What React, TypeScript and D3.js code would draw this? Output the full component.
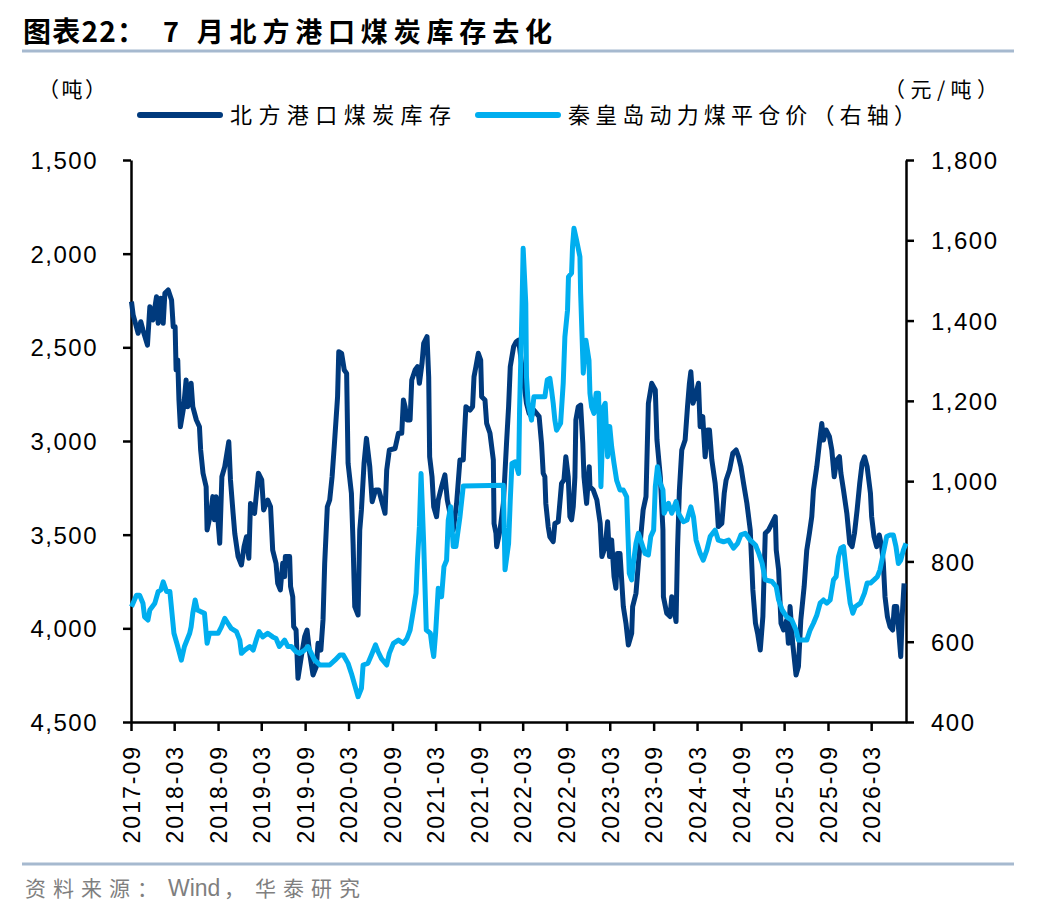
import { useEffect, useRef } from 'react';
import * as d3 from 'd3';

// 北方港口煤炭库存 (left axis, inverted), weekly-ish readings
const inventory: [string, number][] = [
  ["2017-09-03", 2256], ["2017-09-10", 2327], ["2017-10-01", 2425], ["2017-10-12", 2363], ["2017-10-21", 2407],
  ["2017-11-09", 2488], ["2017-11-19", 2283], ["2017-12-02", 2354], ["2017-12-17", 2230], ["2017-12-24", 2372],
  ["2018-01-04", 2238], ["2018-01-14", 2372], ["2018-01-21", 2212], ["2018-02-04", 2194], ["2018-02-18", 2247],
  ["2018-02-25", 2390], ["2018-03-05", 2390], ["2018-03-09", 2621], ["2018-03-16", 2568], ["2018-03-21", 2781],
  ["2018-03-27", 2924], ["2018-04-10", 2817], ["2018-04-20", 2674], ["2018-04-27", 2817], ["2018-05-11", 2692],
  ["2018-05-18", 2817], ["2018-06-02", 2888], ["2018-06-15", 2924], ["2018-06-20", 3048], ["2018-06-30", 3172],
  ["2018-07-13", 3244], ["2018-07-17", 3475], ["2018-08-01", 3386], ["2018-08-10", 3297], ["2018-08-17", 3421],
  ["2018-08-24", 3297], ["2018-09-08", 3546], ["2018-09-17", 3191], ["2018-09-29", 3137], ["2018-10-16", 3004],
  ["2018-10-23", 3208], ["2018-11-03", 3386], ["2018-11-10", 3493], ["2018-11-24", 3617], ["2018-12-08", 3662],
  ["2018-12-19", 3564], ["2018-12-29", 3511], ["2019-01-08", 3626], ["2019-01-15", 3333], ["2019-02-01", 3386],
  ["2019-02-17", 3172], ["2019-03-03", 3208], ["2019-03-11", 3368], ["2019-03-28", 3315], ["2019-04-09", 3351],
  ["2019-04-18", 3582], ["2019-05-02", 3653], ["2019-05-09", 3760], ["2019-05-20", 3795], ["2019-05-30", 3653],
  ["2019-06-07", 3724], ["2019-06-10", 3617], ["2019-06-28", 3617], ["2019-07-02", 3777], ["2019-07-11", 3831],
  ["2019-07-15", 3991], ["2019-07-25", 4009], ["2019-08-02", 4267], ["2019-08-16", 4151], ["2019-08-30", 4044],
  ["2019-09-09", 4009], ["2019-09-20", 4133], ["2019-10-04", 4249], ["2019-10-18", 4204], ["2019-10-25", 4080],
  ["2019-11-06", 4116], ["2019-11-15", 3955], ["2019-11-22", 3653], ["2019-12-03", 3351], ["2019-12-13", 3315],
  ["2019-12-23", 3191], ["2020-01-01", 3030], ["2020-01-15", 2764], ["2020-01-20", 2523], ["2020-02-01", 2532],
  ["2020-02-12", 2621], ["2020-02-22", 2639], ["2020-02-28", 3119], ["2020-03-13", 3279], ["2020-03-20", 3546],
  ["2020-03-27", 3884], ["2020-04-10", 3929], ["2020-04-17", 3475], ["2020-04-24", 3368], ["2020-05-05", 3119],
  ["2020-05-15", 2986], ["2020-05-29", 3137], ["2020-06-08", 3324], ["2020-06-22", 3262], ["2020-07-06", 3262],
  ["2020-07-17", 3315], ["2020-08-01", 3386], ["2020-08-08", 3155], ["2020-08-19", 3048], ["2020-09-12", 3040],
  ["2020-09-26", 2959], ["2020-10-10", 2959], ["2020-10-17", 2781], ["2020-10-24", 2817], ["2020-11-01", 2888],
  ["2020-11-14", 2888], ["2020-11-21", 2674], ["2020-12-05", 2621], ["2020-12-15", 2603], ["2020-12-23", 2692],
  ["2021-01-03", 2586], ["2021-01-10", 2479], ["2021-01-24", 2443], ["2021-01-31", 2657], ["2021-02-04", 3084],
  ["2021-02-14", 3191], ["2021-02-21", 3351], ["2021-03-05", 3404], ["2021-03-12", 3315], ["2021-03-26", 3244],
  ["2021-04-09", 3181], ["2021-04-19", 3315], ["2021-04-30", 3386], ["2021-05-14", 3475], ["2021-05-28", 3333],
  ["2021-06-11", 3101], ["2021-06-25", 3101], ["2021-06-28", 3012], ["2021-07-06", 2817], ["2021-07-23", 2835],
  ["2021-08-03", 2817], ["2021-08-09", 2657], ["2021-08-17", 2603], ["2021-08-27", 2532], ["2021-09-06", 2568],
  ["2021-09-10", 2764], ["2021-09-24", 2781], ["2021-10-01", 2906], ["2021-10-15", 2959], ["2021-10-29", 3101],
  ["2021-11-01", 3440], ["2021-11-09", 3493], ["2021-11-12", 3564], ["2021-11-26", 3475], ["2021-12-10", 3333],
  ["2021-12-24", 2995], ["2022-01-01", 2817], ["2022-01-08", 2603], ["2022-01-22", 2497], ["2022-02-02", 2470],
  ["2022-02-12", 2461], ["2022-03-03", 2657], ["2022-03-17", 2799], ["2022-03-28", 2852], ["2022-04-07", 2870],
  ["2022-04-17", 2835], ["2022-04-28", 2852], ["2022-05-09", 2870], ["2022-05-19", 3012], ["2022-05-26", 3172],
  ["2022-06-02", 3191], ["2022-06-06", 3333], ["2022-06-16", 3457], ["2022-06-23", 3511], ["2022-07-07", 3537],
  ["2022-07-14", 3440], ["2022-07-28", 3431], ["2022-08-11", 3226], ["2022-08-21", 3208], ["2022-08-29", 3084],
  ["2022-09-08", 3191], ["2022-09-15", 3404], ["2022-09-22", 3421], ["2022-09-29", 3351], ["2022-10-06", 3191],
  ["2022-10-10", 2888], ["2022-10-20", 2817], ["2022-10-30", 2808], ["2022-11-08", 3012], ["2022-11-13", 3191],
  ["2022-11-24", 3333], ["2022-12-05", 3137], ["2022-12-08", 3244], ["2022-12-22", 3262], ["2023-01-06", 3315],
  ["2023-01-20", 3440], ["2023-01-27", 3617], ["2023-02-10", 3564], ["2023-02-20", 3431], ["2023-02-28", 3617],
  ["2023-03-09", 3528], ["2023-03-19", 3724], ["2023-03-27", 3786], ["2023-04-02", 3600], ["2023-04-13", 3600],
  ["2023-04-27", 3884], ["2023-05-08", 3973], ["2023-05-18", 4089], ["2023-06-01", 4027], ["2023-06-05", 3884],
  ["2023-06-19", 3813], ["2023-06-29", 3653], ["2023-07-19", 3368], ["2023-07-31", 3297], ["2023-08-10", 2799],
  ["2023-08-24", 2692], ["2023-09-08", 2728], ["2023-09-15", 2995], ["2023-09-29", 3191], ["2023-10-10", 3475],
  ["2023-10-12", 3831], ["2023-10-26", 3919], ["2023-11-09", 3937], ["2023-11-16", 3831], ["2023-11-23", 3866],
  ["2023-12-04", 3964], ["2023-12-10", 3582], ["2023-12-18", 3262], ["2023-12-28", 3048], ["2024-01-11", 2995],
  ["2024-01-21", 2817], ["2024-01-29", 2692], ["2024-02-04", 2630], ["2024-02-13", 2799], ["2024-02-22", 2764],
  ["2024-03-07", 2692], ["2024-03-14", 2924], ["2024-03-25", 2870], ["2024-04-04", 3084], ["2024-04-14", 2941],
  ["2024-04-22", 2941], ["2024-05-02", 3101], ["2024-05-16", 3226], ["2024-05-23", 3333], ["2024-05-29", 3457],
  ["2024-06-13", 3440], ["2024-06-23", 3279], ["2024-07-01", 3208], ["2024-07-15", 3155], ["2024-07-29", 3066],
  ["2024-08-12", 3048], ["2024-08-22", 3084], ["2024-09-01", 3137], ["2024-09-12", 3226], ["2024-09-26", 3333],
  ["2024-10-10", 3475], ["2024-10-21", 3795], ["2024-11-01", 3973], ["2024-11-10", 4027], ["2024-11-21", 4116],
  ["2024-12-02", 3937], ["2024-12-12", 3493], ["2024-12-26", 3475], ["2025-01-09", 3440], ["2025-01-23", 3404],
  ["2025-01-27", 3582], ["2025-02-06", 3689], ["2025-02-16", 3973], ["2025-02-27", 4009], ["2025-03-12", 3955],
  ["2025-03-19", 4080], ["2025-03-26", 3884], ["2025-04-06", 4080], ["2025-04-20", 4249], ["2025-04-30", 4204],
  ["2025-05-10", 3955], ["2025-05-24", 3777], ["2025-06-04", 3582], ["2025-06-15", 3493], ["2025-06-25", 3404],
  ["2025-07-02", 3262], ["2025-07-16", 3137], ["2025-07-27", 3012], ["2025-08-06", 2906], ["2025-08-13", 2995],
  ["2025-08-24", 2941], ["2025-09-07", 2977], ["2025-09-17", 3048], ["2025-09-27", 3191], ["2025-10-08", 3101],
  ["2025-10-19", 3084], ["2025-10-25", 3172], ["2025-11-05", 3262], ["2025-11-19", 3386], ["2025-12-01", 3546],
  ["2025-12-11", 3564], ["2025-12-21", 3493], ["2026-01-01", 3368], ["2026-01-12", 3226], ["2026-01-22", 3119],
  ["2026-02-01", 3084], ["2026-02-12", 3137], ["2026-02-26", 3279], ["2026-03-03", 3404], ["2026-03-13", 3511],
  ["2026-03-24", 3564], ["2026-04-04", 3502], ["2026-04-14", 3564], ["2026-04-21", 3653], ["2026-04-28", 3831],
  ["2026-05-08", 3937], ["2026-05-19", 3991], ["2026-05-30", 4009], ["2026-06-06", 3884], ["2026-06-16", 3884],
  ["2026-06-23", 3991], ["2026-07-03", 4151], ["2026-07-09", 3937], ["2026-07-17", 3760],
];

// 秦皇岛动力煤平仓价 (right axis)
const price: [string, number][] = [
  ["2017-09-03", 687], ["2017-09-24", 716], ["2017-10-07", 716], ["2017-10-21", 696], ["2017-10-28", 662],
  ["2017-11-11", 654], ["2017-11-19", 679], ["2017-12-10", 696], ["2017-12-24", 725], ["2018-01-04", 729],
  ["2018-01-14", 749], ["2018-01-28", 725], ["2018-02-11", 725], ["2018-02-28", 621], ["2018-03-16", 588],
  ["2018-03-31", 554], ["2018-04-13", 588], ["2018-05-05", 621], ["2018-05-11", 637], ["2018-05-18", 671],
  ["2018-05-28", 704], ["2018-06-06", 679], ["2018-06-20", 675], ["2018-07-06", 671], ["2018-07-17", 596],
  ["2018-07-27", 621], ["2018-09-01", 621], ["2018-09-15", 637], ["2018-09-29", 658], ["2018-10-12", 646],
  ["2018-10-26", 633], ["2018-11-17", 625], ["2018-12-01", 604], ["2018-12-08", 571], ["2018-12-22", 579],
  ["2019-01-12", 588], ["2019-01-26", 579], ["2019-02-10", 608], ["2019-02-20", 625], ["2019-03-07", 612],
  ["2019-03-28", 621], ["2019-04-18", 612], ["2019-05-02", 608], ["2019-05-16", 588], ["2019-06-07", 604],
  ["2019-06-21", 588], ["2019-07-05", 588], ["2019-07-25", 575], ["2019-08-09", 571], ["2019-08-30", 579],
  ["2019-09-13", 588], ["2019-09-27", 571], ["2019-10-11", 554], ["2019-11-02", 542], ["2019-11-22", 542],
  ["2019-12-13", 542], ["2020-01-04", 554], ["2020-01-25", 567], ["2020-02-08", 567], ["2020-02-28", 546],
  ["2020-03-13", 521], ["2020-03-27", 492], ["2020-04-10", 463], ["2020-04-24", 484], ["2020-05-01", 542],
  ["2020-05-21", 546], ["2020-06-05", 567], ["2020-06-22", 592], ["2020-07-03", 575], ["2020-07-17", 558],
  ["2020-08-08", 542], ["2020-08-19", 571], ["2020-09-05", 596], ["2020-09-26", 604], ["2020-10-17", 596],
  ["2020-11-01", 608], ["2020-11-14", 629], ["2020-11-28", 679], ["2020-12-09", 721], ["2020-12-15", 803],
  ["2020-12-23", 886], ["2020-12-30", 1019], ["2021-01-10", 845], ["2021-01-21", 629], ["2021-02-07", 621],
  ["2021-02-14", 588], ["2021-02-21", 563], ["2021-03-01", 621], ["2021-03-12", 733], ["2021-03-26", 712],
  ["2021-04-05", 787], ["2021-04-16", 803], ["2021-04-23", 903], ["2021-05-03", 936], ["2021-05-14", 837],
  ["2021-05-25", 837], ["2021-06-11", 911], ["2021-06-25", 988], ["2021-12-10", 990], ["2021-12-17", 779],
  ["2022-01-01", 845], ["2022-01-08", 953], ["2022-01-15", 1044], ["2022-01-29", 1048], ["2022-02-12", 1019],
  ["2022-02-16", 1177], ["2022-02-26", 1426], ["2022-03-03", 1580], ["2022-03-14", 1443], ["2022-03-17", 1260],
  ["2022-03-24", 1194], ["2022-04-07", 1152], ["2022-04-17", 1210], ["2022-06-02", 1210], ["2022-06-12", 1252],
  ["2022-06-23", 1256], ["2022-06-30", 1227], ["2022-07-07", 1194], ["2022-07-14", 1152], ["2022-07-21", 1127],
  ["2022-08-07", 1144], ["2022-08-18", 1244], ["2022-08-25", 1360], ["2022-09-05", 1426], ["2022-09-09", 1509],
  ["2022-09-22", 1518], ["2022-09-26", 1584], ["2022-10-02", 1630], ["2022-10-13", 1600], ["2022-10-27", 1559],
  ["2022-10-30", 1468], ["2022-11-10", 1269], ["2022-11-21", 1351], ["2022-12-04", 1301], ["2022-12-08", 1219],
  ["2022-12-15", 1185], ["2022-12-25", 1169], ["2023-01-03", 1219], ["2023-01-13", 1219], ["2023-01-23", 986],
  ["2023-02-03", 1185], ["2023-02-10", 1194], ["2023-02-20", 1061], ["2023-03-01", 1136], ["2023-03-09", 1086],
  ["2023-03-19", 1044], ["2023-03-30", 1002], ["2023-04-13", 978], ["2023-04-27", 978], ["2023-05-11", 961],
  ["2023-05-22", 770], ["2023-06-01", 754], ["2023-06-08", 795], ["2023-06-19", 845], ["2023-06-29", 870],
  ["2023-07-09", 853], ["2023-07-27", 820], ["2023-08-10", 816], ["2023-08-20", 862], ["2023-09-01", 878],
  ["2023-09-08", 986], ["2023-09-17", 1036], ["2023-09-29", 995], ["2023-10-10", 978], ["2023-10-15", 920],
  ["2023-11-02", 945], ["2023-11-16", 920], ["2023-12-04", 949], ["2023-12-14", 920], ["2024-01-04", 899],
  ["2024-01-19", 903], ["2024-02-04", 936], ["2024-02-15", 911], ["2024-02-26", 853], ["2024-03-14", 820],
  ["2024-03-27", 803], ["2024-04-11", 828], ["2024-04-25", 862], ["2024-05-16", 878], ["2024-05-29", 853],
  ["2024-06-20", 849], ["2024-07-11", 853], ["2024-08-01", 833], ["2024-08-18", 845], ["2024-09-01", 866],
  ["2024-09-19", 870], ["2024-10-10", 853], ["2024-11-01", 841], ["2024-11-15", 820], ["2024-11-29", 795],
  ["2024-12-12", 754], ["2025-01-09", 750], ["2025-01-27", 737], ["2025-02-06", 704], ["2025-02-21", 679],
  ["2025-03-12", 662], ["2025-04-02", 654], ["2025-04-20", 629], ["2025-04-30", 604], ["2025-06-04", 604],
  ["2025-06-18", 629], ["2025-07-02", 646], ["2025-07-16", 666], ["2025-07-30", 696], ["2025-08-13", 704],
  ["2025-08-27", 696], ["2025-09-10", 704], ["2025-09-24", 754], ["2025-10-05", 762], ["2025-10-15", 812],
  ["2025-10-25", 833], ["2025-11-05", 837], ["2025-11-19", 762], ["2025-12-03", 696], ["2025-12-14", 671],
  ["2025-12-24", 687], ["2026-01-15", 696], ["2026-02-01", 721], ["2026-02-12", 746], ["2026-02-26", 746],
  ["2026-03-13", 754], ["2026-03-27", 762], ["2026-04-07", 779], ["2026-04-18", 812], ["2026-05-05", 862],
  ["2026-05-19", 866], ["2026-06-02", 866], ["2026-06-13", 837], ["2026-06-23", 795], ["2026-07-03", 803],
  ["2026-07-14", 828], ["2026-07-25", 845],
];

const leftTicks = [1500, 2000, 2500, 3000, 3500, 4000, 4500];
const rightTicks = [400, 600, 800, 1000, 1200, 1400, 1600, 1800];
const xTickLabels = [
  "2017-09", "2018-03", "2018-09", "2019-03", "2019-09", "2020-03", "2020-09", "2021-03", "2021-09",
  "2022-03", "2022-09", "2023-03", "2023-09", "2024-03", "2024-09", "2025-03", "2025-09", "2026-03",
];
const seriesNames = ["北方港口煤炭库存", "秦皇岛动力煤平仓价（右轴）"];
const seriesColors = ["#003a7d", "#00aeef"];

const NUM_FONT = '"Liberation Sans", Arial, sans-serif';
const CJK_FONT = '"Noto Sans CJK SC", "Noto Sans", sans-serif';

const App = () => {
  const svgRef = useRef<SVGSVGElement>(null);

  useEffect(() => {
    if (!svgRef.current) return;
    const svg = d3.select(svgRef.current);
    svg.selectAll("*").remove();

    const left = 131, right = 906, top = 160, bottom = 722;
    const parseDay = d3.timeParse("%Y-%m-%d");
    const parseMonth = d3.timeParse("%Y-%m");

    const x = d3.scaleTime()
      .domain([parseMonth("2017-09")!, parseDay("2026-07-25")!])
      .range([left, right]);
    const yLeft = d3.scaleLinear().domain([1500, 4500]).range([top, bottom]); // inverted
    const yRight = d3.scaleLinear().domain([400, 1800]).range([bottom, top]);

    // title + rules
    svg.append("text")
      .attr("x", 23).attr("y", 42)
      .attr("font-family", CJK_FONT).attr("font-weight", 700).attr("font-size", 28)
      .attr("textLength", 122).attr("lengthAdjust", "spacing")
      .attr("fill", "#000")
      .text("图表22：");
    svg.append("text")
      .attr("x", 163).attr("y", 42)
      .attr("font-family", CJK_FONT).attr("font-weight", 700).attr("font-size", 27)
      .attr("textLength", 389).attr("lengthAdjust", "spacing")
      .attr("fill", "#000")
      .text("7 月北方港口煤炭库存去化");
    [51, 864].forEach(yy => {
      svg.append("line").attr("x1", 22).attr("x2", 1014).attr("y1", yy).attr("y2", yy)
        .attr("stroke", "#a6b9cf").attr("stroke-width", 3);
    });

    // unit labels
    svg.append("text").attr("x", 38).attr("y", 97)
      .attr("font-family", CJK_FONT).attr("font-size", 21).attr("textLength", 68)
      .text("（吨）");
    svg.append("text").attr("x", 884).attr("y", 97)
      .attr("font-family", CJK_FONT).attr("font-size", 21).attr("textLength", 114)
      .text("（元/吨）");

    // legend
    const legend = [
      { x0: 140, tx: 230, tl: 221 },
      { x0: 478, tx: 568, tl: 348 },
    ];
    legend.forEach((l, i) => {
      svg.append("line").attr("x1", l.x0).attr("x2", l.x0 + 80).attr("y1", 115).attr("y2", 115)
        .attr("stroke", seriesColors[i]).attr("stroke-width", 6).attr("stroke-linecap", "round");
      svg.append("text").attr("x", l.tx).attr("y", 123)
        .attr("font-family", CJK_FONT).attr("font-size", 22)
        .attr("textLength", l.tl).attr("lengthAdjust", "spacing")
        .text(seriesNames[i]);
    });

    // axes
    const xAxis = svg.append("g").attr("transform", `translate(0,${bottom})`)
      .call(d3.axisBottom(x)
        .tickValues(xTickLabels.map(s => parseMonth(s)!))
        .tickFormat(d3.timeFormat("%Y-%m") as any)
        .tickSize(9).tickSizeOuter(0));
    xAxis.selectAll("text")
      .attr("transform", "rotate(-90)")
      .attr("x", -23).attr("y", 0).attr("dy", "0.36em")
      .attr("text-anchor", "end")
      .attr("font-size", 23).attr("letter-spacing", 2).attr("font-family", NUM_FONT).attr("fill", "#000");

    const lAxis = svg.append("g").attr("transform", `translate(${left},0)`)
      .call(d3.axisLeft(yLeft).tickValues(leftTicks).tickFormat(d3.format(",")).tickSize(8).tickPadding(25).tickSizeOuter(0));
    lAxis.selectAll("text").attr("font-size", 24).attr("letter-spacing", 1.5).attr("font-family", NUM_FONT)
      .attr("fill", "#000").attr("dy", "0.36em");

    const rAxis = svg.append("g").attr("transform", `translate(${right},0)`)
      .call(d3.axisRight(yRight).tickValues(rightTicks).tickFormat(d3.format(",")).tickSize(8).tickPadding(17).tickSizeOuter(0));
    rAxis.selectAll("text").attr("font-size", 24).attr("letter-spacing", 1.5).attr("font-family", NUM_FONT)
      .attr("fill", "#000").attr("dy", "0.36em");

    [xAxis, lAxis, rAxis].forEach(a => {
      a.select(".domain").attr("stroke", "#000").attr("stroke-width", 2.5);
      a.selectAll(".tick line").attr("stroke", "#000").attr("stroke-width", 2.5);
    });

    // series
    const invLine = d3.line<[string, number]>()
      .x(d => x(parseDay(d[0])!))
      .y(d => yLeft(d[1]));
    const priceLine = d3.line<[string, number]>()
      .x(d => x(parseDay(d[0])!))
      .y(d => yRight(d[1]));

    svg.append("path").datum(inventory).attr("d", invLine)
      .attr("fill", "none").attr("stroke", seriesColors[0]).attr("stroke-width", 5)
      .attr("stroke-linejoin", "round");
    svg.append("path").datum(price).attr("d", priceLine)
      .attr("fill", "none").attr("stroke", seriesColors[1]).attr("stroke-width", 5)
      .attr("stroke-linejoin", "round");

    // source
    const src = svg.append("g").attr("font-family", CJK_FONT).attr("font-size", 21).attr("fill", "#7f7f7f");
    src.append("text").attr("x", 25).attr("y", 896).attr("letter-spacing", 7).text("资料来源：");
    src.append("text").attr("x", 168).attr("y", 896).attr("font-family", NUM_FONT).attr("font-size", 23).text("Wind");
    src.append("text").attr("x", 224).attr("y", 896).text("，");
    src.append("text").attr("x", 255).attr("y", 896).attr("letter-spacing", 7).text("华泰研究");
  }, []);

  return (
    <svg ref={svgRef} width={1048} height={916}
      style={{ position: 'absolute', left: 0, top: 0, background: '#fff' }}></svg>
  );
};

export default App;
